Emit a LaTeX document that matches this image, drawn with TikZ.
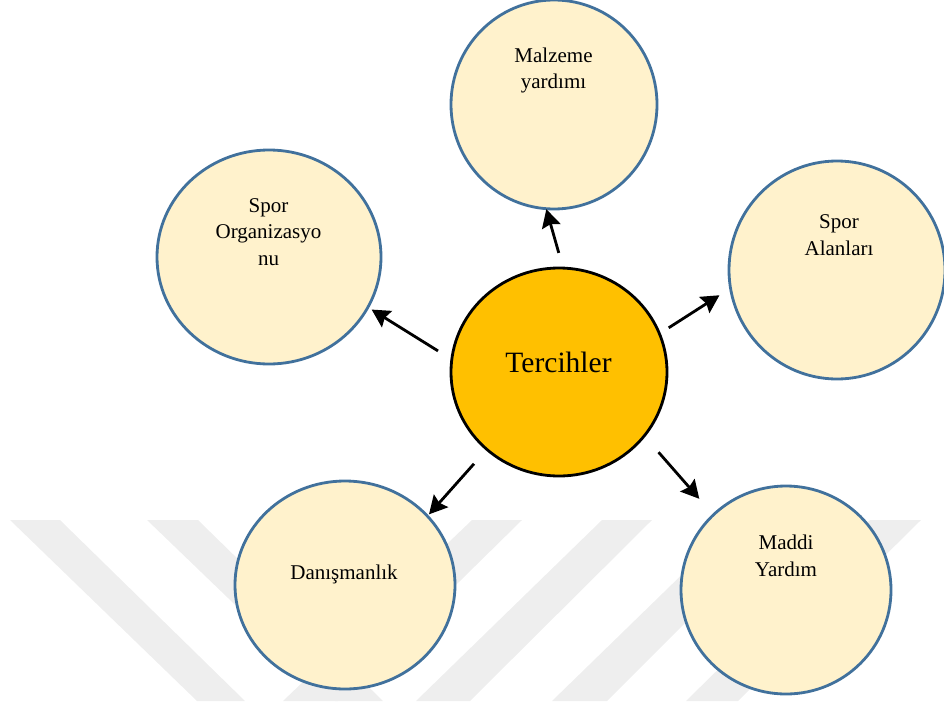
\documentclass[tikz,border=0pt]{standalone}
\usepackage{fontspec}
\setmainfont{Liberation Serif}
\usetikzlibrary{shapes.geometric,arrows.meta}
\definecolor{wm}{HTML}{EEEEEE}
\definecolor{petal}{HTML}{FFF2CC}
\definecolor{petalline}{HTML}{41719C}
\definecolor{hub}{HTML}{FFC000}
\tikzset{
  x=1pt,y=-1pt,
  band/.style={fill=wm,draw=none},
  petalnode/.style={ellipse,draw=petalline,fill=petal,line width=2.8pt,inner sep=0pt},
  hubnode/.style={ellipse,draw=black,fill=hub,line width=2.8pt,inner sep=0pt},
  txt/.style={align=center,inner sep=0pt,font=\fontsize{21}{26.5}\selectfont},
  arr/.style={line width=2.8pt,-{Stealth[length=18pt,width=19pt,inset=2.5pt]}}
}
\begin{document}
\begin{tikzpicture}
\useasboundingbox (0,0) rectangle (944,701);
\begin{scope}
\clip (0,0) rectangle (944,701);
\fill[band] (10,520) -- (60,520) -- (245,701) -- (197,701) -- cycle;
\fill[band] (147,520) -- (198,520) -- (383,701) -- (335,701) -- cycle;
\fill[band] (472,520) -- (522,520) -- (338,701) -- (283,701) -- cycle;
\fill[band] (602,520) -- (652,520) -- (470,701) -- (416,701) -- cycle;
\fill[band] (738,520) -- (788,520) -- (607,701) -- (552,701) -- cycle;
\fill[band] (870,520) -- (921,520) -- (738,701) -- (686,701) -- cycle;
\end{scope}
\node[petalnode,minimum width=206pt,minimum height=209pt] (m) at (554,104.5) {};
\node[petalnode,minimum width=224pt,minimum height=214pt] (o) at (269,257) {};
\node[petalnode,minimum width=216pt,minimum height=218pt] (a) at (837,270) {};
\node[petalnode,minimum width=220pt,minimum height=208pt] (d) at (345,585) {};
\node[petalnode,minimum width=210pt,minimum height=208pt] (y) at (786,590) {};
\node[hubnode,minimum width=216pt,minimum height=208pt] (t) at (559,372) {};
\node[txt] (mt) at (553.5,70.5) {Malzeme\\yardımı};
\node[txt] (ot) at (268.5,232) {Spor\\Organizasyo\\nu};
\node[txt] (at) at (839,235) {Spor\\Alanları};
\node[txt] (dt) at (344,574) {Danışmanlık};
\node[txt] (yt) at (786,556) {Maddi\\Yardım};
\node[txt,font=\fontsize{29.5}{32}\selectfont] (tt) at (558.5,362) {Tercihler};
\draw[arr,shorten <=14.3pt,shorten >=-1pt] (t.88.9) -- (m.266.7);
\draw[arr,shorten <=9.6pt,shorten >=11.6pt] (t.21.96) -- (a.190.8);
\draw[arr,shorten <=14.7pt,shorten >=3pt] (t.173.4) -- (o.-27.9);
\draw[arr,shorten <=17.9pt,shorten >=1pt] (t.227.3) -- (d.40.4);
\draw[arr,shorten <=20.3pt,shorten >=20pt] (t.-37.5) -- (y.134.1);
\end{tikzpicture}
\end{document}
